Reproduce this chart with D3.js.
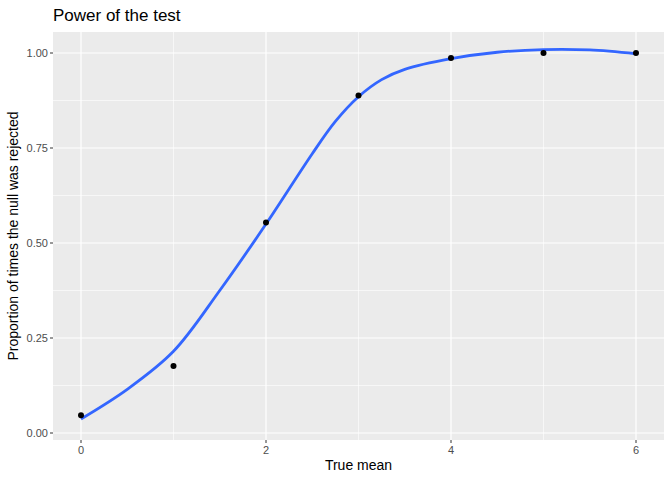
<!DOCTYPE html><html><head><meta charset="utf-8"><script src="https://cdn.jsdelivr.net/npm/d3@7"></script>
<style>body{margin:0;background:#fff}text{font-family:"Liberation Sans",Arial,sans-serif}</style></head><body><svg id="c" width="672" height="480"></svg>
<script>
const trueMean=[0,1,2,3,4,5,6];
const proportion=[0.047,0.176,0.554,0.888,0.987,1.0,1.0];
const smoothX=[0,0.5,1,1.5,2,2.5,2.75,3,3.25,3.5,4,4.5,5,5.5,6];
const smoothY=[0.037,0.115,0.215,0.375,0.55,0.735,0.82,0.885,0.93,0.957,0.985,1.002,1.009,1.008,0.998];
const xTicks=[0,2,4,6], yTicks=[0,0.25,0.5,0.75,1];
const svg=d3.select("#c");
const L=53,R=664,T=32,B=440;
const x=d3.scaleLinear().domain([0,6]).range([81,636]);
const y=d3.scaleLinear().domain([0,1]).range([433,53]);
svg.append("rect").attr("x",L).attr("y",T).attr("width",R-L).attr("height",B-T).attr("fill","#ebebeb");
const g=svg.append("g");
[1,3,5].forEach(v=>g.append("line").attr("x1",x(v)).attr("x2",x(v)).attr("y1",T).attr("y2",B).attr("stroke","#fff").attr("stroke-width",0.6));
[0.125,0.375,0.625,0.875].forEach(v=>g.append("line").attr("x1",L).attr("x2",R).attr("y1",y(v)).attr("y2",y(v)).attr("stroke","#fff").attr("stroke-width",0.6));
xTicks.forEach(v=>g.append("line").attr("x1",x(v)).attr("x2",x(v)).attr("y1",T).attr("y2",B).attr("stroke","#fff").attr("stroke-width",1.2));
yTicks.forEach(v=>g.append("line").attr("x1",L).attr("x2",R).attr("y1",y(v)).attr("y2",y(v)).attr("stroke","#fff").attr("stroke-width",1.2));
const pts=smoothX.map((v,i)=>[v,smoothY[i]]);
svg.append("path").attr("d",d3.line().x(d=>x(d[0])).y(d=>y(d[1])).curve(d3.curveCatmullRom)(pts)).attr("fill","none").attr("stroke","#3366FF").attr("stroke-width",2.8);
trueMean.forEach((v,i)=>svg.append("circle").attr("cx",x(v)).attr("cy",y(proportion[i])).attr("r",3).attr("fill","#000"));
xTicks.forEach(v=>{svg.append("line").attr("x1",x(v)).attr("x2",x(v)).attr("y1",B).attr("y2",B+3).attr("stroke","#333");
svg.append("text").attr("x",x(v)).attr("y",B+14).attr("text-anchor","middle").attr("font-size",11).attr("fill","#4d4d4d").text(d3.format("d")(v));});
yTicks.forEach(v=>{svg.append("line").attr("x1",L-3).attr("x2",L).attr("y1",y(v)).attr("y2",y(v)).attr("stroke","#333");
svg.append("text").attr("x",L-5).attr("y",y(v)+4).attr("text-anchor","end").attr("font-size",11).attr("fill","#4d4d4d").text(d3.format(".2f")(v));});
svg.append("text").attr("x",(L+R)/2).attr("y",470).attr("text-anchor","middle").attr("font-size",14).text("True mean");
svg.append("text").attr("transform",`translate(18,${(T+B)/2}) rotate(-90)`).attr("text-anchor","middle").attr("font-size",14).text("Proportion of times the null was rejected");
svg.append("text").attr("x",53).attr("y",21).attr("font-size",17).text("Power of the test");
</script></body></html>
